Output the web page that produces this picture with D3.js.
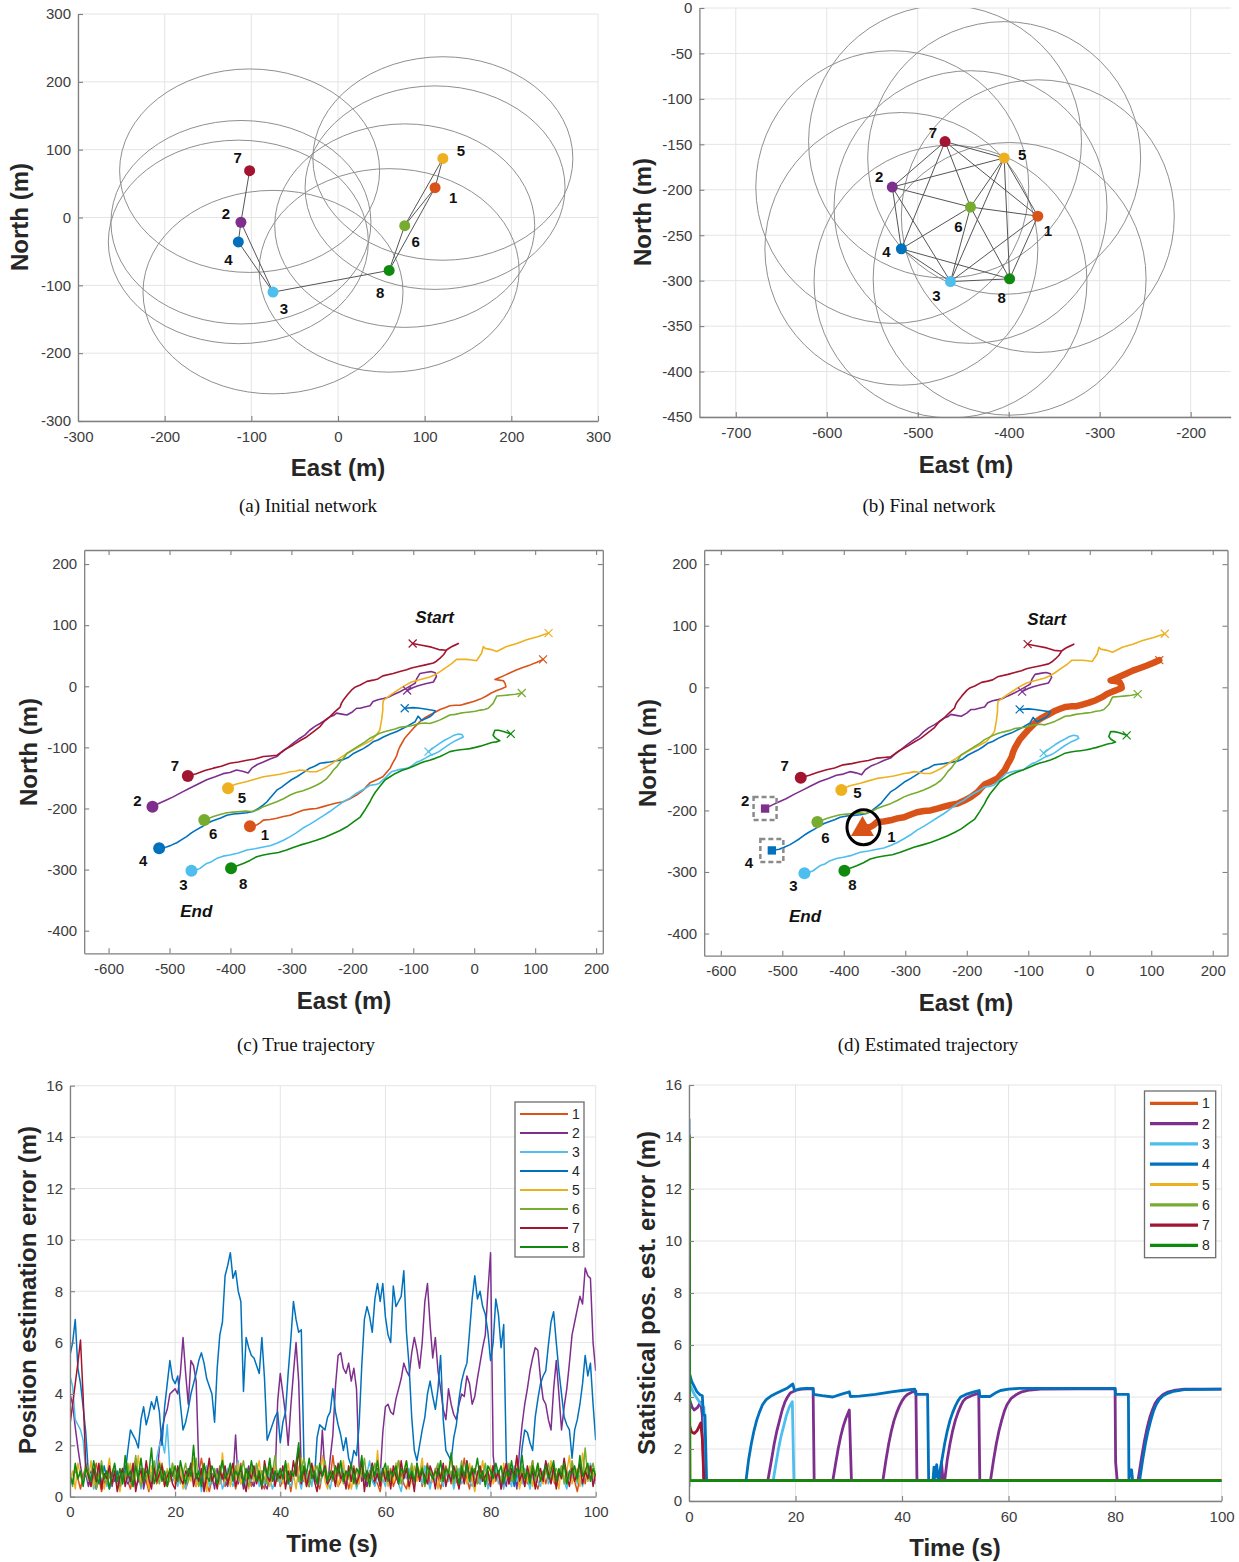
<!DOCTYPE html>
<html>
<head>
<meta charset="utf-8">
<script src="https://cdn.jsdelivr.net/npm/d3@7"></script>
<style>
  body { margin: 0; background: #fff; }
  svg { display: block; }
</style>
</head>
<body>
<script>
// ---------- node identities and colours ----------
const nodeIds = [1, 2, 3, 4, 5, 6, 7, 8];
const nodeColors = ["#D95319", "#7E2F8E", "#4DBEEE", "#0072BD", "#EDB120", "#77AC30", "#A2142F", "#0F8A0F"];
const commRange = 150; // communication radius (m)

// ---------- (a) initial network ----------
const initialEast  = [112, -112, -75, -115, 121, 77, -102, 59];
const initialNorth = [44, -7, -110, -36, 87, -12, 69, -78];
const initialLinks = [[7, 2], [2, 4], [2, 3], [4, 3], [3, 8], [8, 6], [8, 1], [6, 5], [6, 1], [1, 5]];

// ---------- (b) final network ----------
const finalEast  = [-368, -528, -464, -518, -405, -442, -470, -399];
const finalNorth = [-229, -197, -301, -265, -165, -219, -147, -298];
const finalLinks = [[1, 3], [1, 5], [1, 6], [1, 7], [1, 8], [2, 3], [2, 4], [2, 5], [2, 6], [2, 7], [3, 4],
                    [3, 5], [3, 6], [3, 8], [4, 6], [4, 7], [4, 8], [5, 6], [5, 7], [5, 8], [6, 7], [6, 8]];

// ---------- (c)/(d) trajectories, [East, North] from start to end ----------
const traj1 = [[113,44],[102,39],[92,35],[81,31],[70,27],[59,22],[48,17],[41,14],[34,11],[41,10],[48,9],[51,4],[52,-1],[45,-4],[37,-7],[28,-11],[20,-16],[10,-21],[-1,-25],[-12,-28],[-23,-31],[-31,-31],[-40,-32],[-48,-35],[-56,-38],[-65,-43],[-73,-47],[-80,-51],[-86,-55],[-93,-62],[-100,-69],[-107,-77],[-114,-85],[-118,-92],[-122,-99],[-125,-106],[-127,-113],[-130,-119],[-133,-124],[-138,-134],[-144,-141],[-150,-148],[-160,-153],[-171,-158],[-177,-164],[-182,-170],[-193,-178],[-204,-184],[-215,-189],[-226,-191],[-237,-194],[-248,-197],[-259,-200],[-270,-201],[-281,-203],[-292,-207],[-302,-211],[-313,-213],[-324,-216],[-335,-218],[-346,-219],[-352,-224],[-357,-227],[-368,-229]];
const traj2 = [[-110,-7],[-100,-2],[-92,1],[-80,4],[-67,7],[-62,16],[-64,22],[-71,24],[-78,23],[-89,21],[-94,13],[-97,5],[-104,1],[-111,-3],[-122,-9],[-133,-14],[-141,-18],[-149,-20],[-158,-22],[-166,-25],[-171,-32],[-180,-34],[-187,-36],[-193,-36],[-200,-42],[-209,-47],[-215,-46],[-226,-44],[-231,-48],[-237,-50],[-245,-56],[-253,-61],[-262,-66],[-270,-72],[-278,-80],[-286,-85],[-297,-93],[-308,-102],[-316,-108],[-324,-115],[-335,-119],[-346,-124],[-356,-128],[-365,-134],[-371,-142],[-380,-139],[-390,-137],[-401,-141],[-412,-143],[-425,-148],[-439,-153],[-453,-160],[-467,-167],[-481,-174],[-494,-181],[-505,-186],[-516,-191],[-528,-197]];
const traj3 = [[-75,-107],[-66,-100],[-56,-93],[-48,-88],[-40,-84],[-33,-80],[-26,-78],[-20,-79],[-18,-83],[-24,-86],[-31,-89],[-41,-95],[-51,-102],[-58,-107],[-64,-110],[-72,-113],[-81,-118],[-88,-122],[-94,-124],[-101,-129],[-108,-134],[-122,-136],[-136,-140],[-146,-150],[-156,-159],[-163,-161],[-171,-162],[-182,-169],[-193,-175],[-204,-183],[-215,-189],[-226,-197],[-237,-205],[-248,-212],[-259,-219],[-270,-226],[-281,-232],[-292,-240],[-302,-246],[-313,-252],[-324,-257],[-335,-261],[-346,-263],[-360,-266],[-373,-268],[-387,-273],[-401,-276],[-412,-278],[-423,-282],[-431,-287],[-439,-290],[-450,-298],[-457,-301],[-464,-302]];
const traj4 = [[-114,-36],[-100,-35],[-89,-36],[-76,-38],[-64,-40],[-68,-46],[-73,-50],[-80,-53],[-86,-56],[-92,-49],[-97,-58],[-104,-62],[-111,-66],[-119,-70],[-127,-74],[-138,-78],[-149,-83],[-158,-88],[-166,-91],[-174,-97],[-182,-102],[-190,-106],[-198,-110],[-206,-116],[-215,-120],[-226,-122],[-237,-124],[-245,-125],[-253,-126],[-262,-131],[-270,-134],[-280,-141],[-291,-148],[-300,-153],[-308,-159],[-316,-165],[-324,-170],[-330,-177],[-335,-183],[-340,-189],[-346,-194],[-354,-200],[-363,-205],[-373,-207],[-384,-208],[-395,-209],[-406,-211],[-415,-215],[-423,-218],[-431,-221],[-439,-225],[-447,-230],[-456,-235],[-464,-240],[-472,-246],[-480,-251],[-488,-256],[-497,-260],[-505,-263],[-517,-265]];
const traj5 = [[122,87],[104,81],[86,76],[70,70],[53,65],[45,61],[37,57],[28,60],[18,62],[15,65],[12,54],[8,48],[4,42],[-4,43],[-12,44],[-20,44],[-29,44],[-37,37],[-46,31],[-56,24],[-64,19],[-73,15],[-88,11],[-103,7],[-114,1],[-125,-6],[-137,-14],[-149,-23],[-150,-31],[-150,-39],[-152,-55],[-155,-72],[-161,-80],[-168,-88],[-177,-93],[-187,-98],[-198,-104],[-209,-110],[-218,-116],[-226,-121],[-234,-127],[-242,-132],[-250,-136],[-259,-140],[-270,-140],[-278,-138],[-286,-137],[-294,-139],[-302,-140],[-310,-142],[-319,-144],[-332,-146],[-346,-148],[-360,-152],[-373,-156],[-390,-160],[-398,-163],[-404,-167]];
const traj6 = [[78,-11],[68,-13],[59,-14],[48,-15],[37,-16],[31,-28],[23,-36],[17,-38],[10,-39],[2,-41],[-7,-42],[-15,-43],[-23,-44],[-31,-46],[-40,-47],[-48,-51],[-56,-55],[-64,-58],[-73,-61],[-81,-60],[-89,-61],[-97,-63],[-105,-65],[-113,-66],[-122,-67],[-130,-70],[-138,-72],[-146,-74],[-155,-77],[-163,-81],[-171,-85],[-179,-91],[-187,-96],[-198,-103],[-209,-110],[-214,-117],[-220,-124],[-225,-131],[-231,-137],[-236,-144],[-242,-151],[-250,-157],[-259,-162],[-270,-167],[-281,-171],[-292,-174],[-302,-178],[-313,-184],[-324,-189],[-335,-193],[-346,-197],[-355,-202],[-365,-205],[-375,-204],[-384,-205],[-395,-206],[-406,-207],[-417,-210],[-428,-213],[-435,-216],[-443,-219]];
const traj7 = [[-101,70],[-86,67],[-70,64],[-58,60],[-46,59],[-40,63],[-35,66],[-26,70],[-30,68],[-38,64],[-45,60],[-50,52],[-56,46],[-62,41],[-67,38],[-80,35],[-94,32],[-103,30],[-111,27],[-122,24],[-133,21],[-150,17],[-158,12],[-166,10],[-176,8],[-187,2],[-195,-1],[-200,-5],[-208,-14],[-215,-23],[-218,-28],[-220,-34],[-228,-41],[-237,-50],[-245,-56],[-253,-66],[-262,-73],[-275,-83],[-284,-88],[-297,-96],[-310,-103],[-324,-113],[-335,-114],[-346,-115],[-360,-119],[-373,-121],[-387,-124],[-401,-126],[-415,-131],[-428,-134],[-442,-138],[-456,-143],[-470,-147]];
const traj8 = [[60,-78],[54,-76],[48,-74],[40,-72],[34,-72],[31,-80],[34,-84],[37,-86],[42,-89],[36,-91],[29,-92],[20,-95],[10,-98],[2,-100],[-7,-102],[-15,-103],[-23,-104],[-31,-105],[-40,-107],[-48,-111],[-56,-115],[-64,-118],[-73,-121],[-81,-123],[-89,-126],[-98,-130],[-108,-134],[-119,-138],[-130,-143],[-138,-148],[-146,-153],[-154,-163],[-162,-173],[-167,-181],[-171,-189],[-179,-202],[-187,-214],[-198,-222],[-209,-230],[-220,-236],[-231,-241],[-245,-247],[-259,-252],[-272,-256],[-286,-260],[-297,-264],[-308,-268],[-321,-272],[-335,-274],[-346,-276],[-357,-279],[-368,-285],[-379,-290],[-390,-294],[-399,-298]];
const trajectories = [traj1, traj2, traj3, traj4, traj5, traj6, traj7, traj8];

// ---------- (e) position estimation error (m), one sample every 0.5 s ----------
const errStep = 0.5;
const err1 = [0.9,0.5,1.1,0.7,0.3,0.8,1.2,0.6,0.4,0.9,1.3,0.7,0.2,0.6,1.0,0.8,0.5,1.1,0.4,0.7,
0.9,1.2,0.6,0.3,0.8,1.4,0.7,0.5,1.0,0.6,0.2,0.9,1.1,0.5,0.8,1.3,0.6,0.4,0.7,1.0,
0.5,0.8,1.2,0.9,0.3,0.6,1.1,0.7,0.4,0.9,1.5,0.8,0.5,0.2,0.7,1.0,0.6,1.2,0.8,0.4,
0.6,1.1,0.9,0.3,0.7,1.3,0.5,0.8,1.0,0.4,0.6,1.2,0.9,0.5,0.3,0.8,1.4,0.7,0.6,1.0,
0.4,0.7,1.1,0.8,0.2,0.9,1.3,0.6,0.5,1.0,0.7,0.4,1.2,0.8,0.6,0.3,0.9,1.1,0.5,0.7,
1.6,0.8,0.4,0.6,1.0,0.9,0.3,0.7,1.2,0.5,0.8,1.1,0.6,0.4,0.9,1.3,0.7,0.5,0.2,0.8,
1.0,0.6,1.1,0.4,0.7,1.4,0.9,0.5,0.3,0.8,1.2,0.6,0.7,1.0,0.4,0.9,1.3,0.5,0.6,1.1,
0.8,0.3,0.7,1.2,0.9,0.5,1.0,0.6,0.4,0.8,1.5,0.7,0.3,0.9,1.1,0.6,0.5,1.0,0.8,0.4,
0.7,1.2,0.6,0.9,0.3,0.8,1.3,0.5,0.7,1.0,0.4,0.6,1.1,0.9,0.5,0.8,1.4,0.6,0.3,0.7,
1.0,0.5,0.9,1.2,0.6,0.4,0.8,1.1,0.7,0.5,0.9,1.3,0.6,0.2,0.8,1.0,0.5,1.2,0.7,0.9,0.6];
const err2 = [4.0,3.6,2.7,1.9,1.2,0.6,0.9,0.4,1.0,0.7,0.3,0.8,1.1,0.5,0.6,1.2,0.4,0.9,0.7,0.3,
0.8,1.0,0.5,0.7,1.2,0.4,0.6,1.1,0.3,0.8,0.9,0.5,1.3,0.6,1.9,2.6,3.1,3.4,4.0,4.1,
4.2,4.0,4.8,6.2,4.8,3.6,5.3,5.1,4.5,1.2,0.7,0.4,1.0,0.6,0.9,0.3,1.1,0.5,0.8,0.6,
0.4,1.0,0.7,2.4,0.5,0.9,0.3,0.8,1.2,0.6,0.4,0.9,0.7,1.0,0.5,0.3,0.8,1.1,0.6,3.7,
4.8,4.0,3.2,2.0,3.5,4.8,6.0,4.5,1.0,0.6,0.9,0.4,1.1,0.7,0.5,0.8,2.6,0.9,0.4,1.5,
2.4,4.3,5.5,5.6,5.0,4.8,5.2,4.5,5.0,4.2,1.2,0.6,0.9,0.4,1.0,0.7,0.5,1.1,0.8,2.5,
3.5,3.6,3.3,3.2,3.8,4.2,4.6,5.2,4.9,4.7,5.6,6.2,5.7,5.0,6.0,7.6,8.3,6.7,5.4,6.2,
4.9,4.2,3.4,3.0,4.2,3.6,3.2,3.0,3.6,4.0,3.9,4.7,4.4,3.6,3.9,4.6,5.2,5.8,6.3,8.0,
9.5,1.6,0.7,1.0,0.5,0.8,0.4,1.2,0.6,0.9,0.3,1.8,2.8,3.6,4.2,4.9,5.4,5.8,5.7,4.6,
3.8,3.6,3.0,2.6,4.2,5.3,4.0,2.6,3.5,4.2,5.2,6.3,6.8,7.3,7.8,7.5,8.9,8.6,8.5,6.0,4.9];
const err3 = [4.7,4.3,3.0,2.8,2.6,2.2,1.0,0.6,0.9,0.3,0.7,1.1,0.5,0.8,0.4,1.0,0.6,1.2,0.3,0.7,
0.5,0.9,0.6,1.1,0.4,0.8,1.0,0.3,0.7,1.2,0.5,0.9,0.6,1.5,2.0,2.2,1.7,2.8,1.0,0.6,
0.8,0.4,1.1,0.7,0.3,0.9,1.3,0.6,0.5,1.0,0.2,0.8,1.2,0.4,0.7,1.0,0.5,0.9,0.3,0.6,
1.1,0.7,0.4,0.9,1.4,0.5,0.8,0.3,1.0,0.6,0.9,1.2,0.4,0.7,0.5,1.1,0.8,0.3,0.6,1.0,
0.5,0.9,1.3,0.6,0.4,0.8,1.1,0.7,0.3,0.9,0.6,1.0,0.4,1.2,0.7,0.5,0.8,1.3,0.6,0.3,
0.9,0.5,1.0,0.7,1.2,0.4,0.8,0.6,1.1,0.3,0.7,1.0,0.5,0.9,1.4,0.6,0.4,0.8,1.1,0.7,
0.4,1.0,0.6,0.8,1.3,0.5,0.2,0.9,0.7,1.1,0.6,0.4,1.0,0.8,0.5,1.2,0.7,0.3,0.9,0.6,
1.2,0.7,0.4,1.0,0.6,0.9,0.3,0.8,1.1,0.5,0.7,1.4,0.6,0.4,0.9,1.0,0.5,0.8,1.2,0.3,
0.6,0.9,1.1,0.5,0.8,0.3,1.0,0.7,0.4,1.2,0.6,0.9,0.5,1.1,0.7,0.3,0.8,1.0,0.6,0.4,
0.9,1.3,0.5,0.7,1.0,0.4,0.8,1.2,0.6,0.3,0.9,0.7,1.1,0.5,0.8,0.4,1.0,0.6,1.3,0.7,0.5];
const err4 = [5.5,6.0,6.9,5.0,4.4,3.5,2.5,0.9,0.6,1.1,0.4,0.8,0.5,1.2,0.7,0.3,0.9,0.6,1.0,0.5,
0.7,0.9,1.8,2.6,2.4,2.2,1.9,3.0,3.5,2.8,3.2,3.7,3.4,3.9,3.3,2.0,3.5,4.4,5.3,4.6,
4.4,4.7,3.6,2.6,2.9,3.4,4.0,4.4,4.8,5.3,5.6,5.2,4.6,4.3,4.0,2.9,5.0,6.3,6.8,8.6,
9.0,9.5,8.5,8.8,8.0,7.6,4.1,6.2,5.8,5.5,5.4,5.1,4.8,6.2,4.6,2.2,2.5,2.8,3.1,3.3,
2.1,2.9,3.3,4.8,6.1,7.6,6.9,6.4,6.5,1.5,0.8,0.5,1.1,0.7,2.3,2.8,2.7,2.6,3.1,3.3,
4.2,3.3,2.8,2.4,1.8,2.3,1.5,1.2,1.8,1.6,2.8,5.1,6.9,7.4,7.0,6.4,7.7,8.3,7.6,8.3,
7.0,6.3,6.0,8.2,7.4,7.6,7.8,8.8,6.4,5.1,3.1,1.8,1.4,2.0,2.6,3.1,4.0,4.5,3.9,3.4,
4.2,5.5,3.0,1.8,1.6,1.4,2.3,2.8,3.8,4.5,4.9,5.2,6.4,7.7,8.6,7.7,8.0,7.4,7.1,6.4,
5.3,6.0,7.7,7.1,5.8,6.7,1.4,0.6,1.0,0.4,0.9,0.7,1.9,2.6,2.5,2.1,1.8,3.1,3.8,4.4,
4.7,4.9,5.9,6.8,7.2,6.0,4.9,4.0,3.1,2.8,2.6,1.5,2.6,3.0,3.6,4.4,5.5,4.7,5.2,3.6,2.2];
const err5 = [0.6,1.0,0.3,1.3,0.8,0.5,1.1,0.7,1.4,0.4,0.9,0.6,1.2,0.3,0.8,1.5,0.5,1.0,0.7,0.2,
1.1,0.6,0.9,1.3,0.4,0.8,1.6,0.5,0.7,1.0,0.3,1.2,0.8,0.6,1.4,0.9,0.4,1.1,0.7,1.3,
0.5,0.9,1.2,0.3,0.8,1.0,0.6,1.5,0.4,0.7,1.1,0.9,0.2,1.3,0.6,1.0,0.8,0.5,1.7,0.6,
0.9,0.4,1.1,0.7,1.3,0.5,0.8,1.0,0.3,1.2,0.6,0.9,1.4,0.5,0.7,1.1,0.4,0.8,1.2,0.6,
1.0,0.5,0.8,1.3,0.6,0.9,0.3,1.1,1.5,0.7,0.4,1.0,0.8,1.2,0.5,0.9,1.6,0.6,0.3,1.0,
0.7,1.2,0.4,0.9,1.4,0.6,1.0,0.3,0.8,1.1,0.5,1.3,0.7,0.9,0.4,1.2,0.6,1.8,0.5,0.8,
1.1,0.4,0.9,0.6,1.3,0.8,0.5,1.0,1.4,0.3,0.7,1.2,0.6,0.9,1.5,0.4,0.8,1.1,0.6,1.0,
0.3,0.9,1.2,0.5,0.8,1.6,0.7,1.0,0.4,1.1,0.9,0.5,1.3,0.7,0.2,1.0,0.8,1.4,0.6,0.9,
1.2,0.5,0.8,1.0,0.4,1.3,0.7,0.9,1.1,0.6,1.5,0.3,0.8,1.0,0.6,1.2,0.4,0.9,1.3,0.7,
0.5,1.0,0.8,1.4,0.6,0.9,0.3,1.2,0.7,1.0,1.6,0.5,0.8,1.1,0.4,1.7,0.9,0.6,1.2,0.8,1.0];
const err6 = [0.8,0.4,1.2,0.7,1.0,0.5,1.3,0.9,0.6,1.1,0.3,0.8,1.4,0.7,0.5,1.0,0.9,1.2,0.6,0.4,
1.0,0.7,1.3,0.5,0.9,1.6,0.8,0.4,1.1,0.7,1.0,0.6,1.4,0.9,0.5,1.2,0.8,1.0,0.6,1.3,
0.7,1.1,0.5,0.9,1.3,0.6,1.0,0.8,1.5,0.4,0.9,1.2,0.7,1.0,0.5,1.1,0.8,0.6,1.3,0.9,
0.5,1.0,0.8,1.2,0.6,0.9,1.4,0.7,0.4,1.1,0.8,1.3,0.6,1.0,0.7,0.5,1.2,0.9,1.6,0.6,
1.0,0.7,1.2,0.5,0.9,0.8,1.3,0.6,1.0,1.5,0.7,0.4,1.1,0.9,1.2,0.6,0.8,1.4,0.7,1.0,
0.6,1.1,0.8,1.3,0.5,1.0,0.7,1.2,0.9,0.4,1.1,0.8,1.5,0.6,1.0,0.7,1.3,0.9,0.5,1.1,
0.8,1.2,0.6,1.0,0.9,1.4,0.5,0.8,1.1,0.7,1.3,0.6,1.0,0.8,1.2,0.4,0.9,1.1,0.7,1.0,
1.3,0.6,0.9,1.1,0.7,1.0,0.5,1.2,0.8,1.4,0.6,1.0,0.9,1.2,0.7,0.5,1.1,0.8,1.3,0.6,
0.9,1.2,0.7,1.0,0.5,1.1,0.8,1.3,0.6,0.9,1.0,0.7,1.2,0.4,1.0,0.8,1.4,0.6,1.1,0.9,
0.7,1.0,1.3,0.6,0.9,1.1,0.8,1.2,0.5,1.0,0.7,1.4,0.9,0.6,1.1,0.8,1.9,0.7,1.0,1.3,0.8];
const err7 = [2.8,3.6,4.4,5.2,6.1,3.9,1.2,0.8,0.4,1.1,0.6,1.3,0.3,0.9,0.7,1.2,0.5,1.0,0.2,0.8,
1.1,0.4,0.9,0.6,1.3,0.2,0.8,1.0,0.5,1.4,0.7,0.3,1.1,0.6,0.9,1.2,0.4,0.8,1.0,0.5,
0.3,1.2,0.7,0.5,1.0,0.8,1.3,0.4,0.9,0.6,1.1,0.2,0.8,1.5,0.6,0.9,0.3,1.0,0.7,1.2,
0.5,0.9,1.3,0.4,0.8,1.1,0.6,0.2,1.0,0.7,1.2,0.5,0.9,0.3,1.4,0.8,0.6,1.1,0.4,0.9,
0.7,1.2,0.3,1.0,0.6,1.4,0.8,1.9,0.5,1.1,0.4,0.9,1.3,0.6,0.2,1.0,0.8,1.2,0.5,0.7,
1.0,0.4,1.3,0.7,0.9,0.3,1.2,0.6,1.1,0.5,0.8,1.4,0.2,1.0,0.7,1.3,0.6,0.9,0.4,1.1,
0.6,1.0,0.3,1.2,0.8,0.5,1.4,0.7,1.1,0.4,0.9,0.2,1.3,0.6,1.0,0.8,0.5,1.2,0.9,0.3,
1.1,0.7,1.3,0.4,0.9,0.6,1.2,0.8,0.3,1.0,0.5,1.4,0.7,1.1,0.4,0.9,1.2,0.6,0.8,1.0,
0.4,1.2,0.7,1.0,0.3,0.9,1.3,0.5,1.1,0.8,1.6,0.6,0.9,0.4,1.2,0.7,1.0,0.3,0.8,1.1,
0.6,1.4,0.9,0.5,1.2,0.3,1.0,0.7,1.5,0.8,0.4,1.1,0.6,0.9,1.3,0.5,1.0,0.7,1.2,0.4,0.9];
const err8 = [0.8,0.5,1.3,0.7,1.0,0.4,1.1,0.9,0.6,1.4,0.8,0.5,1.2,0.7,1.0,0.3,0.9,1.3,0.6,1.1,
0.5,1.6,0.8,1.0,0.4,1.2,0.7,1.5,0.6,1.0,0.9,1.9,0.5,0.8,1.3,0.6,1.0,0.4,1.1,0.8,
1.2,0.6,1.4,0.9,0.5,1.1,0.8,2.0,0.7,1.0,0.4,1.3,0.8,0.6,1.2,0.9,0.5,1.0,1.4,0.7,
0.9,1.3,0.6,1.0,0.8,1.2,0.5,1.1,0.7,1.4,0.9,0.6,1.0,0.4,1.2,0.8,1.5,0.6,1.0,0.7,
1.1,0.7,1.4,0.5,1.0,0.8,1.3,2.1,0.6,1.2,0.9,1.5,0.7,1.0,0.5,1.3,0.8,1.1,0.6,1.0,
0.7,1.2,0.9,1.4,0.6,1.0,0.8,1.3,0.5,1.1,0.9,1.6,0.7,1.0,0.4,1.2,0.8,1.4,0.6,1.0,
1.3,0.6,1.0,0.8,1.2,0.5,1.1,0.9,1.4,0.7,1.0,0.6,1.3,0.8,1.1,0.5,1.2,0.9,0.7,1.0,
0.8,1.4,0.6,1.1,0.9,1.7,0.7,1.0,0.5,1.2,0.8,1.3,0.6,1.1,0.9,1.5,0.7,1.0,0.4,1.2,
1.0,0.7,1.3,0.9,1.2,0.5,1.0,0.8,1.4,0.6,1.1,0.9,1.6,0.7,1.0,0.5,1.2,0.8,1.3,0.6,
0.9,1.2,0.7,1.0,1.4,0.6,1.1,0.8,1.3,0.5,1.0,0.9,1.2,0.7,1.6,0.8,1.0,1.3,0.6,1.1,0.8];
const errSeries = [err1, err2, err3, err4, err5, err6, err7, err8];

// ---------- (f) statistical position estimation error (m), [time s, value] ----------
const stat1 = [[0,14.0],[0.15,0.78],[100,0.78]];
const stat2 = [[0,14.0],[0.1,3.9],[0.6,3.6],[1,3.5],[1.6,3.6],[2.2,3.8],[2.5,3.3],[2.8,0.78],[14.8,0.78],[15.5,1.6],[16,2.2],[16.5,2.7],[17,3.1],[17.5,3.5],[18,3.8],[18.5,4.0],[19,4.15],[20,4.25],[21,4.3],[23.3,4.32],[23.5,0.78],[27,0.78],[27.5,1.4],[28,2.0],[28.5,2.5],[29,2.9],[29.5,3.2],[30.1,3.5],[30.5,0.78],[36.4,0.78],[37,1.6],[37.5,2.2],[38,2.7],[38.5,3.1],[39,3.4],[39.5,3.65],[40,3.85],[40.5,4.0],[41,4.1],[42,4.2],[42.6,4.22],[42.8,0.78],[47.2,0.78],[47.4,1.5],[47.7,0.78],[48,0.78],[48.5,1.6],[49,2.2],[49.5,2.7],[50,3.1],[50.5,3.4],[51,3.65],[51.5,3.85],[52,3.95],[53,4.05],[54.4,4.15],[54.6,0.78],[56.6,0.78],[57.2,1.6],[57.7,2.2],[58.2,2.7],[58.7,3.1],[59.2,3.45],[59.7,3.7],[60.5,3.95],[61.5,4.1],[62.5,4.2],[64,4.27],[66,4.3],[80,4.32],[80.1,1.5],[80.4,0.78],[84.3,0.78],[85,1.7],[85.5,2.3],[86,2.8],[86.5,3.2],[87,3.5],[87.5,3.75],[88,3.9],[89,4.1],[90,4.2],[91,4.25],[93,4.3],[100,4.3]];
const stat3 = [[0,14.0],[0.1,4.5],[1,4.1],[2,3.8],[2.8,3.6],[3.1,0.78],[15.8,0.78],[16.3,1.4],[16.8,2.0],[17.3,2.5],[17.8,2.9],[18.3,3.3],[18.8,3.6],[19.4,3.82],[19.7,0.78],[100,0.78]];
const stat4 = [[0,14.7],[0.1,4.9],[0.5,4.6],[1,4.4],[1.5,4.2],[2,4.1],[2.5,4.05],[2.7,3.3],[3.0,3.3],[3.3,0.78],[10.7,0.78],[11.2,1.6],[11.7,2.2],[12.2,2.7],[12.7,3.1],[13.2,3.4],[13.8,3.7],[14.5,3.9],[15.5,4.05],[16.5,4.15],[17.5,4.25],[18.5,4.35],[19.5,4.5],[19.8,4.25],[20.5,4.3],[22,4.33],[23.3,4.33],[23.4,4.1],[25,4.05],[27,4.0],[28.5,4.1],[29.8,4.18],[30.1,4.2],[30.3,4.02],[32,4.03],[35,4.1],[38,4.2],[40,4.25],[42.4,4.3],[42.6,4.1],[44.8,4.1],[45,0.78],[45.8,0.78],[46,1.3],[46.2,0.9],[46.5,1.4],[46.8,0.78],[47,1.0],[47.5,1.6],[48,2.2],[48.5,2.7],[49,3.1],[49.5,3.4],[50,3.65],[50.5,3.85],[51,4.0],[52,4.1],[53.5,4.2],[54.5,4.25],[54.6,4.02],[56.5,4.02],[57.5,4.15],[58.5,4.25],[60,4.3],[62,4.33],[80,4.33],[80.1,4.1],[82.5,4.1],[82.6,0.78],[82.8,1.2],[83.1,1.2],[83.3,0.78],[84.6,0.78],[85.2,1.6],[85.7,2.2],[86.2,2.7],[86.7,3.1],[87.2,3.45],[87.7,3.7],[88.3,3.9],[89,4.05],[90,4.15],[91,4.22],[93,4.28],[100,4.3]];
const stat5 = [[0,14.0],[0.15,0.78],[100,0.78]];
const stat6 = [[0,14.0],[0.15,0.78],[100,0.78]];
const stat7 = [[0,14.1],[0.1,2.9],[0.5,2.65],[1,2.6],[1.5,2.7],[2.2,3.0],[2.5,2.4],[2.8,0.78],[100,0.78]];
const stat8 = [[0,0.55],[0.05,14.0],[0.15,0.78],[100,0.78]];
const statSeries = [stat1, stat2, stat3, stat4, stat5, stat6, stat7, stat8];

// ---------- axis ticks ----------
const ticksA = [-300, -200, -100, 0, 100, 200, 300];
const ticksBx = [-700, -600, -500, -400, -300, -200];
const ticksBy = [0, -50, -100, -150, -200, -250, -300, -350, -400, -450];
const ticksCDx = [-600, -500, -400, -300, -200, -100, 0, 100, 200];
const ticksCDy = [200, 100, 0, -100, -200, -300, -400];
const ticksTime = [0, 20, 40, 60, 80, 100];
const ticksErr = [0, 2, 4, 6, 8, 10, 12, 14, 16];

// ================= drawing =================
const SANS = "'Liberation Sans', Arial, Helvetica, sans-serif";
const SERIF = "'Liberation Serif', 'Times New Roman', serif";
const AXIS_COLOR = "#808080";
const svg = d3.select("body").append("svg").attr("width", 1239).attr("height", 1562);
svg.append("rect").attr("width", 1239).attr("height", 1562).attr("fill", "#fff");
const defs = svg.append("defs");
let clipCount = 0;

function makePanel(o) {
  const x = d3.scaleLinear().domain(o.xDomain).range([o.left, o.right]);
  const y = d3.scaleLinear().domain(o.yDomain).range([o.bottom, o.top]);
  const id = "clip" + (++clipCount);
  defs.append("clipPath").attr("id", id).append("rect")
    .attr("x", o.left).attr("y", o.top).attr("width", o.right - o.left).attr("height", o.bottom - o.top);
  const root = svg.append("g");
  const gridG = root.append("g");
  if (o.grid) {
    gridG.selectAll("line.vx").data(o.xTicks).join("line").attr("class", "vx")
      .attr("x1", d => x(d)).attr("x2", d => x(d)).attr("y1", o.top).attr("y2", o.bottom)
      .attr("stroke", "#e4e4e4").attr("stroke-width", 1);
    gridG.selectAll("line.hy").data(o.yTicks).join("line").attr("class", "hy")
      .attr("x1", o.left).attr("x2", o.right).attr("y1", d => y(d)).attr("y2", d => y(d))
      .attr("stroke", "#e4e4e4").attr("stroke-width", 1);
  }
  const plot = root.append("g").attr("clip-path", `url(#${id})`);
  const over = root.append("g");
  const axesG = root.append("g");
  return { x, y, o, plot, over, axesG, root };
}

function styleAxis(sel) {
  sel.attr("font-size", null).attr("font-family", null);
  sel.select(".domain").attr("stroke", AXIS_COLOR).attr("stroke-width", 1.3);
  sel.selectAll(".tick line").attr("stroke", AXIS_COLOR).attr("stroke-width", 1.1);
  sel.selectAll(".tick text").attr("fill", "#3c3c3c").style("font-size", "15px").style("font-family", SANS);
}

function drawAxes(p, boxed) {
  const { x, y, o, axesG } = p;
  const fmt = d => String(d);
  axesG.append("g").attr("transform", `translate(0,${o.bottom})`)
    .call(d3.axisBottom(x).tickValues(o.xTicks).tickSizeInner(-5).tickSizeOuter(0).tickPadding(10).tickFormat(fmt))
    .call(styleAxis);
  axesG.append("g").attr("transform", `translate(${o.left},0)`)
    .call(d3.axisLeft(y).tickValues(o.yTicks).tickSizeInner(-5).tickSizeOuter(0).tickPadding(7).tickFormat(fmt))
    .call(styleAxis);
  if (boxed) {
    axesG.append("g").attr("transform", `translate(0,${o.top})`)
      .call(d3.axisTop(x).tickValues(o.xTicks).tickSizeInner(-5).tickSizeOuter(0).tickFormat(""))
      .call(styleAxis);
    axesG.append("g").attr("transform", `translate(${o.right},0)`)
      .call(d3.axisRight(y).tickValues(o.yTicks).tickSizeInner(-5).tickSizeOuter(0).tickFormat(""))
      .call(styleAxis);
  }
  // axis titles
  axesG.append("text").attr("x", o.xTitle[0]).attr("y", o.xTitle[1])
    .attr("text-anchor", "middle").attr("dominant-baseline", "central")
    .style("font-family", SANS).style("font-weight", "bold").style("font-size", "24px").attr("fill", "#262626")
    .text(o.xLabel);
  axesG.append("text").attr("transform", `translate(${o.yTitle[0]},${o.yTitle[1]}) rotate(-90)`)
    .attr("text-anchor", "middle").attr("dominant-baseline", "central")
    .style("font-family", SANS).style("font-weight", "bold").style("font-size", "24px").attr("fill", "#262626")
    .text(o.yLabel);
  if (o.caption) {
    axesG.append("text").attr("x", o.caption[0]).attr("y", o.caption[1])
      .attr("text-anchor", "middle").attr("dominant-baseline", "central")
      .style("font-family", SERIF).style("font-size", "19px").attr("fill", "#111")
      .text(o.caption[2]);
  }
}

function numberLabel(g, px, py, txt, size) {
  g.append("text").attr("x", px).attr("y", py)
    .attr("text-anchor", "middle").attr("dominant-baseline", "central")
    .style("font-family", SANS).style("font-weight", "bold").style("font-size", (size || 15) + "px")
    .attr("fill", "#111").text(txt);
}

// ---------- network panels ----------
function drawNetwork(p, east, north, links, nudge) {
  const { x, y, plot, over } = p;
  const rx = Math.abs(x(commRange) - x(0));
  const ry = Math.abs(y(commRange) - y(0));
  plot.selectAll("ellipse").data(nodeIds).join("ellipse")
    .attr("cx", (d, i) => x(east[i])).attr("cy", (d, i) => y(north[i]))
    .attr("rx", rx).attr("ry", ry)
    .attr("fill", "none").attr("stroke", "#8f8f8f").attr("stroke-width", 1);
  plot.selectAll("line.link").data(links).join("line").attr("class", "link")
    .attr("x1", d => x(east[d[0] - 1])).attr("y1", d => y(north[d[0] - 1]))
    .attr("x2", d => x(east[d[1] - 1])).attr("y2", d => y(north[d[1] - 1]))
    .attr("stroke", "#555").attr("stroke-width", 1);
  over.selectAll("circle").data(nodeIds).join("circle")
    .attr("cx", (d, i) => x(east[i])).attr("cy", (d, i) => y(north[i])).attr("r", 5.5)
    .attr("fill", (d, i) => nodeColors[i]);
  nodeIds.forEach((id, i) => numberLabel(over, x(east[i]) + nudge[i][0], y(north[i]) + nudge[i][1], String(id)));
}

const pa = makePanel({ left: 78, right: 598, top: 14, bottom: 421, xDomain: [-300, 300], yDomain: [-300, 300],
  xTicks: ticksA, yTicks: ticksA, grid: true,
  xLabel: "East (m)", yLabel: "North (m)", xTitle: [338, 467], yTitle: [19, 217], caption: [308, 505, "(a)  Initial network"] });
drawNetwork(pa, initialEast, initialNorth, initialLinks,
  [[18, 10], [-15, -9], [11, 16], [-10, 18], [18, -8], [11, 16], [-12, -13], [-9, 22]]);
drawAxes(pa, false);

const pb = makePanel({ left: 699.4, right: 1230.7, top: 8, bottom: 417, xDomain: [-740, -156], yDomain: [-450, 0],
  xTicks: ticksBx, yTicks: ticksBy, grid: true,
  xLabel: "East (m)", yLabel: "North (m)", xTitle: [966, 464], yTitle: [642, 212], caption: [929, 505, "(b)  Final network"] });
drawNetwork(pb, finalEast, finalNorth, finalLinks,
  [[10, 14], [-13, -11], [-14, 14], [-15, 3], [18, -3], [-12, 19], [-12, -9], [-8, 19]]);
drawAxes(pb, false);

// ---------- trajectory panels ----------
function drawTrajectories(p, estimated, nudge, startPos, endPos) {
  const { x, y, plot, over } = p;
  const line = d3.line().x(d => x(d[0])).y(d => y(d[1]));
  trajectories.forEach((tr, i) => {
    const thick = estimated && i === 0;
    plot.append("path").attr("d", line(tr)).attr("fill", "none")
      .attr("stroke", nodeColors[i]).attr("stroke-width", thick ? 6.5 : 1.6)
      .attr("stroke-linejoin", "round").attr("stroke-linecap", "round");
    // start marker (x)
    const sx = x(tr[0][0]), sy = y(tr[0][1]);
    over.append("path").attr("d", `M${sx - 4},${sy - 4}L${sx + 4},${sy + 4}M${sx - 4},${sy + 4}L${sx + 4},${sy - 4}`)
      .attr("stroke", nodeColors[i]).attr("stroke-width", 1.2);
  });
  trajectories.forEach((tr, i) => {
    const end = tr[tr.length - 1];
    const ex = x(end[0]), ey = y(end[1]);
    if (estimated && (i === 1 || i === 3)) {
      over.append("rect").attr("x", ex - 11.5).attr("y", ey - 11.5).attr("width", 23).attr("height", 23)
        .attr("fill", "none").attr("stroke", "#8a8a8a").attr("stroke-width", 2.5).attr("stroke-dasharray", "5,3");
      over.append("path").attr("d", d3.symbol(d3.symbolSquare, 70)()).attr("transform", `translate(${ex},${ey})`)
        .attr("fill", nodeColors[i]);
    } else if (estimated && i === 0) {
      over.append("path").attr("d", d3.symbol(d3.symbolTriangle, 230)()).attr("transform", `translate(${ex - 1},${ey + 1})`)
        .attr("fill", nodeColors[i]);
      over.append("ellipse").attr("cx", ex).attr("cy", ey - 1).attr("rx", 16.5).attr("ry", 17.5)
        .attr("fill", "none").attr("stroke", "#000").attr("stroke-width", 3);
    } else {
      over.append("circle").attr("cx", ex).attr("cy", ey).attr("r", 6).attr("fill", nodeColors[i]);
    }
    numberLabel(over, ex + nudge[i][0], ey + nudge[i][1], String(nodeIds[i]));
  });
  [[startPos, "Start"], [endPos, "End"]].forEach(([pos, txt]) => {
    over.append("text").attr("x", x(pos[0])).attr("y", y(pos[1]))
      .attr("text-anchor", "middle").attr("dominant-baseline", "central")
      .style("font-family", SANS).style("font-weight", "bold").style("font-style", "italic").style("font-size", "17px")
      .attr("fill", "#111").text(txt);
  });
}

const pc = makePanel({ left: 84.2, right: 602.8, top: 550, bottom: 953.3, xDomain: [-640, 211], yDomain: [-437, 223],
  xTicks: ticksCDx, yTicks: ticksCDy, grid: false,
  xLabel: "East (m)", yLabel: "North (m)", xTitle: [344, 1000], yTitle: [28, 752], caption: [306, 1044, "(c)  True trajectory"] });
drawTrajectories(pc, false,
  [[15, 8], [-15, -6], [-8, 14], [-16, 12], [14, 9], [9, 13], [-13, -11], [12, 15]], [-65, 113], [-456, -369]);
drawAxes(pc, true);

const pd = makePanel({ left: 704.2, right: 1227.5, top: 550, bottom: 955.7, xDomain: [-627, 224], yDomain: [-436, 223],
  xTicks: ticksCDx, yTicks: ticksCDy, grid: false,
  xLabel: "East (m)", yLabel: "North (m)", xTitle: [966, 1002], yTitle: [647, 753], caption: [928, 1044, "(d)  Estimated trajectory"] });
drawTrajectories(pd, true,
  [[28, 8], [-20, -8], [-11, 12], [-23, 12], [16, 2], [8, 15], [-16, -12], [8, 14]], [-70, 110], [-463, -373]);
drawAxes(pd, true);

// ---------- error panels ----------
function drawLegend(g, x0, y0, x1, y1, rowY0, rowDy, lineX0, lineX1, width) {
  g.append("rect").attr("x", x0).attr("y", y0).attr("width", x1 - x0).attr("height", y1 - y0)
    .attr("fill", "#fff").attr("stroke", "#6e6e6e").attr("stroke-width", 1.3);
  nodeIds.forEach((id, i) => {
    const yy = rowY0 + i * rowDy;
    g.append("line").attr("x1", lineX0).attr("x2", lineX1).attr("y1", yy).attr("y2", yy)
      .attr("stroke", nodeColors[i]).attr("stroke-width", width);
    g.append("text").attr("x", lineX1 + 4).attr("y", yy).attr("dominant-baseline", "central")
      .style("font-family", SANS).style("font-size", "14px").attr("fill", "#262626").text(String(id));
  });
}

const pe = makePanel({ left: 70, right: 595.7, top: 1085.7, bottom: 1496.7, xDomain: [0, 100], yDomain: [0, 16],
  xTicks: ticksTime, yTicks: ticksErr, grid: true,
  xLabel: "Time (s)", yLabel: "Position estimation error (m)", xTitle: [332, 1543], yTitle: [27, 1290] });
{
  const line = d3.line().x((d, i) => pe.x(i * errStep)).y(d => pe.y(d));
  errSeries.forEach((s, i) => {
    pe.plot.append("path").attr("d", line(s)).attr("fill", "none")
      .attr("stroke", nodeColors[i]).attr("stroke-width", 1.5).attr("stroke-linejoin", "round");
  });
}
drawAxes(pe, false);
drawLegend(pe.axesG, 515, 1102, 584, 1257, 1114, 19, 520, 568, 1.8);

const pf = makePanel({ left: 689, right: 1221.6, top: 1085, bottom: 1501, xDomain: [0, 100], yDomain: [0, 16],
  xTicks: ticksTime, yTicks: ticksErr, grid: true,
  xLabel: "Time (s)", yLabel: "Statistical pos. est. error (m)", xTitle: [955, 1547], yTitle: [646, 1293] });
{
  const line = d3.line().x(d => pf.x(d[0])).y(d => pf.y(d[1]));
  statSeries.forEach((s, i) => {
    pf.plot.append("path").attr("d", line(s)).attr("fill", "none")
      .attr("stroke", nodeColors[i]).attr("stroke-width", 2.8).attr("stroke-linejoin", "round");
  });
}
drawAxes(pf, false);
drawLegend(pf.axesG, 1144.5, 1091, 1215.7, 1257.7, 1103.3, 20.3, 1150, 1198, 3.2);
</script>
</body>
</html>
